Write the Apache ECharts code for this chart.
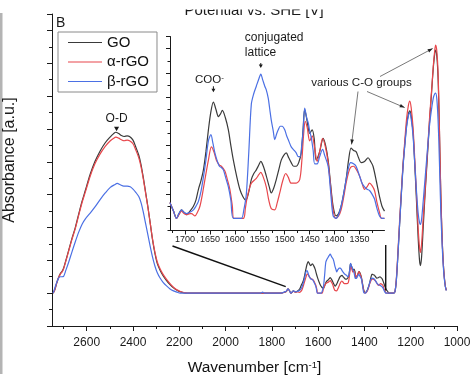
<!DOCTYPE html>
<html><head><meta charset="utf-8">
<script src="https://cdn.jsdelivr.net/npm/echarts@6/dist/echarts.min.js"></script>
<style>html,body{margin:0;padding:0;background:#fff}#c{width:474px;height:381px}</style>
</head><body><div id="c"></div>
<script>
// ---------- data ----------
const SERIES_NAMES = ['GO', 'α-rGO', 'β-rGO'];
const MAIN_X_TICKS = [2600, 2400, 2200, 2000, 1800, 1600, 1400, 1200, 1000];
const MAIN_X_MINOR = [2700, 2500, 2300, 2100, 1900, 1700, 1500, 1300, 1100];
const INSET_X_TICKS = [1700, 1650, 1600, 1550, 1500, 1450, 1400, 1350];
const INSET_X_MINOR = [1725, 1675, 1625, 1575, 1525, 1475, 1425, 1375, 1325];

// O-D band (main plot)
const GO_OD = [[2745,1.0],[2738,1.1],[2730,1.3],[2722,1.47],[2714,1.6],[2707,1.66],[2700,1.76],[2690,2.0],[2678,2.3],[2664,2.66],[2650,2.98],[2635,3.4],[2620,3.8],[2605,4.15],[2585,4.62],[2565,5.0],[2542,5.33],[2520,5.58],[2498,5.76],[2485,5.85],[2474,5.9],[2462,5.86],[2450,5.8],[2438,5.77],[2425,5.79],[2415,5.77],[2400,5.66],[2388,5.45],[2375,5.2],[2365,4.9],[2355,4.5],[2345,4.05],[2335,3.6],[2325,3.1],[2315,2.6],[2305,2.2],[2295,1.9],[2283,1.7],[2270,1.53],[2255,1.38],[2240,1.26],[2225,1.16],[2210,1.09],[2195,1.04],[2180,1.01],[2165,1.0]];
const A_OD = [[2745,1.0],[2738,1.1],[2730,1.3],[2722,1.46],[2714,1.58],[2707,1.64],[2700,1.74],[2690,1.98],[2678,2.28],[2664,2.63],[2650,2.95],[2635,3.36],[2620,3.76],[2605,4.1],[2585,4.56],[2565,4.93],[2542,5.24],[2520,5.47],[2498,5.64],[2485,5.71],[2474,5.75],[2462,5.72],[2450,5.67],[2438,5.64],[2425,5.66],[2415,5.64],[2400,5.55],[2388,5.36],[2375,5.12],[2365,4.84],[2355,4.46],[2345,4.02],[2335,3.58],[2325,3.1],[2315,2.62],[2305,2.24],[2295,1.95],[2283,1.74],[2270,1.57],[2255,1.42],[2240,1.29],[2225,1.18],[2210,1.1],[2195,1.05],[2180,1.02],[2165,1.0]];
const B_OD = [[2745,1.0],[2738,1.15],[2730,1.32],[2722,1.45],[2714,1.5],[2707,1.5],[2700,1.51],[2690,1.7],[2678,1.94],[2664,2.25],[2650,2.55],[2635,2.85],[2620,3.1],[2605,3.27],[2585,3.44],[2565,3.62],[2542,3.85],[2520,4.05],[2498,4.22],[2480,4.3],[2468,4.34],[2455,4.3],[2440,4.26],[2425,4.26],[2412,4.24],[2400,4.17],[2388,4.07],[2375,3.94],[2365,3.75],[2355,3.45],[2345,3.1],[2335,2.75],[2325,2.4],[2315,2.08],[2305,1.82],[2295,1.62],[2283,1.46],[2270,1.33],[2255,1.22],[2240,1.13],[2225,1.07],[2210,1.03],[2196,1.0]];

// flat region between the bands
const FLAT = [[2150,1.0],[2000,1.0],[1900,1.0],[1760,1.0],[1745,1.03],[1738,1.05]];
const B_FLAT = [[2150,1.0],[2000,1.0],[1900,1.0],[1850,1.0],[1840,1.03],[1830,1.0],[1760,1.0],[1745,1.04],[1738,1.06]];

// 1730-1300 region (shown in inset and in main plot)
const GO_INSET = [[1730,1.13],[1723,1.06],[1717,1.0],[1712,1.04],[1707,1.07],[1702,1.05],[1697,1.03],[1690,1.06],[1683,1.10],[1678,1.15],[1673,1.24],[1668,1.31],[1663,1.40],[1658,1.55],[1653,1.73],[1648,1.88],[1643,1.96],[1638,1.90],[1633,1.84],[1629,1.86],[1625,1.89],[1619,1.83],[1613,1.73],[1608,1.60],[1603,1.48],[1596,1.34],[1590,1.24],[1584,1.18],[1578,1.15],[1572,1.22],[1567,1.32],[1562,1.37],[1557,1.40],[1552,1.44],[1548,1.47],[1542,1.42],[1537,1.35],[1531,1.26],[1527,1.21],[1522,1.25],[1517,1.32],[1512,1.40],[1507,1.48],[1502,1.52],[1497,1.54],[1492,1.50],[1487,1.46],[1482,1.43],[1477,1.43],[1472,1.46],[1467,1.54],[1463,1.75],[1460,1.90],[1455,1.80],[1450,1.70],[1445,1.73],[1441,1.66],[1437,1.48],[1430,1.55],[1423,1.66],[1418,1.60],[1413,1.48],[1408,1.28],[1403,1.10],[1397,1.02],[1392,1.04],[1387,1.10],[1382,1.20],[1377,1.32],[1372,1.48],[1367,1.58],[1362,1.56],[1357,1.55],[1352,1.50],[1347,1.46],[1340,1.47],[1333,1.50],[1328,1.47],[1323,1.43],[1316,1.30],[1310,1.18],[1305,1.10],[1300,1.06]];
const A_INSET = [[1730,1.13],[1723,1.06],[1717,1.0],[1712,1.03],[1707,1.06],[1702,1.04],[1697,1.03],[1690,1.04],[1687,1.04],[1680,1.02],[1675,1.05],[1670,1.10],[1665,1.20],[1660,1.32],[1653,1.48],[1647,1.59],[1642,1.55],[1637,1.48],[1631,1.44],[1627,1.43],[1620,1.39],[1615,1.32],[1610,1.24],[1605,1.10],[1602,1.0],[1583,1.0],[1579,1.08],[1575,1.18],[1567,1.29],[1557,1.33],[1552,1.36],[1548,1.38],[1543,1.34],[1537,1.26],[1532,1.15],[1527,1.08],[1520,1.07],[1515,1.13],[1510,1.21],[1504,1.31],[1498,1.37],[1493,1.34],[1487,1.29],[1477,1.29],[1470,1.32],[1466,1.46],[1462,1.70],[1459,1.80],[1455,1.75],[1450,1.64],[1445,1.68],[1440,1.58],[1435,1.47],[1430,1.55],[1424,1.66],[1418,1.58],[1413,1.46],[1408,1.26],[1403,1.07],[1398,1.0],[1392,1.02],[1387,1.07],[1382,1.17],[1377,1.29],[1372,1.38],[1368,1.42],[1362,1.43],[1356,1.40],[1350,1.35],[1345,1.29],[1340,1.24],[1335,1.26],[1330,1.29],[1325,1.27],[1320,1.23],[1315,1.13],[1310,1.05],[1306,1.0],[1300,1.0]];
const B_INSET = [[1730,1.13],[1723,1.06],[1717,1.0],[1712,1.04],[1707,1.07],[1702,1.05],[1697,1.04],[1690,1.05],[1683,1.07],[1678,1.10],[1673,1.14],[1668,1.22],[1663,1.34],[1658,1.48],[1653,1.64],[1648,1.69],[1644,1.62],[1640,1.54],[1635,1.47],[1631,1.43],[1627,1.42],[1623,1.40],[1618,1.33],[1613,1.26],[1608,1.15],[1603,1.0],[1587,1.0],[1582,1.07],[1577,1.20],[1572,1.55],[1567,1.94],[1562,2.03],[1557,2.09],[1552,2.15],[1548,2.19],[1544,2.14],[1540,2.09],[1537,2.06],[1533,1.99],[1530,1.90],[1527,1.81],[1523,1.72],[1520,1.65],[1516,1.70],[1513,1.73],[1509,1.76],[1505,1.76],[1500,1.73],[1496,1.68],[1493,1.65],[1487,1.59],[1481,1.56],[1477,1.54],[1473,1.51],[1469,1.51],[1466,1.60],[1463,1.73],[1460,1.91],[1456,1.83],[1453,1.79],[1450,1.72],[1447,1.67],[1443,1.56],[1440,1.45],[1435,1.45],[1430,1.51],[1424,1.57],[1420,1.52],[1413,1.43],[1408,1.22],[1403,1.02],[1397,1.0],[1392,1.03],[1387,1.10],[1382,1.20],[1377,1.32],[1372,1.42],[1368,1.46],[1362,1.45],[1357,1.43],[1350,1.35],[1345,1.29],[1340,1.26],[1335,1.24],[1330,1.23],[1325,1.20],[1320,1.16],[1315,1.08],[1310,1.02],[1305,1.0],[1300,1.0]];

// C-O region (main plot)
const GO_CO = [[1295,1.0],[1285,1.0],[1275,1.0],[1268,1.05],[1262,1.4],[1255,2.2],[1248,3.1],[1240,4.1],[1233,4.9],[1226,5.5],[1218,6.1],[1210,6.45],[1204,6.55],[1198,6.4],[1190,5.9],[1183,5.0],[1175,3.8],[1168,2.7],[1162,2.0],[1158,1.84],[1153,2.1],[1146,3.0],[1139,3.9],[1132,4.7],[1125,5.5],[1118,6.3],[1110,7.1],[1102,7.9],[1096,8.3],[1092,8.4],[1087,8.2],[1082,7.6],[1078,6.6],[1074,5.3],[1070,4.0],[1065,2.8],[1060,2.0],[1055,1.5],[1050,1.2],[1046,1.09]];
const A_CO = [[1295,1.0],[1285,1.0],[1275,1.0],[1268,1.05],[1262,1.45],[1255,2.3],[1248,3.2],[1240,4.15],[1233,4.95],[1226,5.6],[1218,6.3],[1210,6.72],[1204,6.85],[1198,6.65],[1190,6.05],[1183,5.15],[1175,4.0],[1168,3.0],[1162,2.4],[1158,2.24],[1153,2.5],[1146,3.3],[1139,4.0],[1132,4.8],[1125,5.6],[1118,6.4],[1110,7.15],[1102,7.95],[1096,8.4],[1092,8.55],[1087,8.35],[1082,7.75],[1078,6.7],[1074,5.35],[1070,4.05],[1065,2.85],[1060,2.0],[1055,1.5],[1050,1.2],[1046,1.09]];
const B_CO = [[1295,1.0],[1285,1.0],[1275,1.0],[1268,1.05],[1262,1.4],[1255,2.2],[1248,3.1],[1240,4.05],[1233,4.85],[1226,5.45],[1218,6.05],[1210,6.4],[1204,6.5],[1198,6.3],[1190,5.8],[1183,5.0],[1175,4.1],[1168,3.45],[1162,3.15],[1158,3.09],[1153,3.25],[1146,3.8],[1139,4.4],[1132,5.0],[1125,5.6],[1118,6.15],[1110,6.6],[1102,6.95],[1096,7.07],[1092,7.09],[1087,6.9],[1082,6.3],[1078,5.5],[1074,4.5],[1070,3.5],[1065,2.6],[1060,1.9],[1055,1.45],[1050,1.18],[1046,1.08]];

const COLORS = ['#3a3a3a', '#e8474c', '#4b70e4'];
const FONT = 'Liberation Sans, Arial, Helvetica, sans-serif';
const AXC = '#1a1a1a';

// ---------- chart ----------
const chart = echarts.init(document.getElementById('c'), null, {renderer: 'canvas'});
const mainData = [GO_OD.concat(FLAT, GO_INSET, GO_CO), A_OD.concat(FLAT, A_INSET, A_CO), B_OD.concat(B_FLAT, B_INSET, B_CO)];
const insetData = [GO_INSET, A_INSET, B_INSET];

function tickAxis(extra) {
  return Object.assign({
    type: 'value', axisLine: {show: false}, axisLabel: {show: false},
    splitLine: {show: false}, axisTick: {show: true, length: 3, lineStyle: {color: AXC, width: 1}}
  }, extra);
}

const series = [];
SERIES_NAMES.forEach((n, i) => {
  series.push({name: n, type: 'line', xAxisIndex: 0, yAxisIndex: 0, data: mainData[i],
    showSymbol: false, symbol: 'none', smooth: 0.3, lineStyle: {width: 1.2, color: COLORS[i]}, itemStyle: {color: COLORS[i]}, z: 2 + i});
});
SERIES_NAMES.forEach((n, i) => {
  series.push({name: n, type: 'line', xAxisIndex: 2, yAxisIndex: 2, data: insetData[i],
    showSymbol: false, symbol: 'none', smooth: 0.3, lineStyle: {width: 1.2, color: COLORS[i]}, itemStyle: {color: COLORS[i]}, z: 2 + i});
});

const option = {
  animation: false,
  backgroundColor: '#fff',
  grid: [
    {left: 52, right: 17, top: 14, bottom: 49},
    {left: 170, top: 36.5, width: 214.5, height: 194},
    {left: 170, top: 36.5, width: 214.5, height: 181.875}
  ],
  legend: {
    data: SERIES_NAMES, orient: 'vertical', left: 58, top: 32,
    icon: 'rect', itemWidth: 34, itemHeight: 1.1, itemGap: 4.5,
    padding: [3, 8, 3, 10], borderColor: '#8a8a8a', borderWidth: 1, backgroundColor: '#fff',
    textStyle: {fontSize: 15, color: '#111', fontFamily: FONT}, selectedMode: false
  },
  xAxis: [
    {type: 'value', gridIndex: 0, min: 1000, max: 2750, interval: 200, inverse: true, position: 'bottom',
      axisLine: {show: true, onZero: false, lineStyle: {color: AXC, width: 1}},
      axisTick: {show: true, length: 5, customValues: MAIN_X_TICKS, lineStyle: {color: AXC}},
      axisLabel: {fontSize: 12, color: '#1a1a1a', fontFamily: FONT, margin: 11, customValues: MAIN_X_TICKS,
        formatter: v => MAIN_X_TICKS.includes(v) ? String(v) : ''},
      splitLine: {show: false},
      name: 'Wavenumber [cm{sup|-1}]', nameLocation: 'middle', nameGap: 34,
      nameTextStyle: {fontSize: 15.5, color: '#111', fontFamily: FONT,
        rich: {sup: {fontSize: 9.5, fontFamily: FONT, color: '#111', verticalAlign: 'top', lineHeight: 12}}}},
    tickAxis({gridIndex: 0, min: 1000, max: 2750, interval: 100, inverse: true, position: 'bottom',
      axisTick: {show: true, length: 3, customValues: MAIN_X_MINOR, lineStyle: {color: AXC}}}),
    {type: 'value', gridIndex: 1, min: 1300, max: 1730, interval: 50, inverse: true, position: 'bottom',
      axisLine: {show: true, onZero: false, lineStyle: {color: AXC, width: 1}},
      axisTick: {show: true, length: 4, customValues: INSET_X_TICKS, lineStyle: {color: AXC}},
      axisLabel: {fontSize: 9, color: '#1a1a1a', fontFamily: FONT, margin: 5, customValues: INSET_X_TICKS,
        formatter: v => INSET_X_TICKS.includes(v) ? String(v) : ''},
      splitLine: {show: false}},
    tickAxis({gridIndex: 1, min: 1300, max: 1730, interval: 25, inverse: true, position: 'bottom',
      axisTick: {show: true, length: 2.5, customValues: INSET_X_MINOR, lineStyle: {color: AXC}}}),
    {type: 'value', gridIndex: 2, min: 1300, max: 1730, show: false}
  ],
  yAxis: [
    {type: 'value', gridIndex: 0, min: 0, max: 9.5, interval: 1, position: 'left',
      axisLine: {show: true, onZero: false, lineStyle: {color: AXC, width: 1}},
      axisTick: {show: true, length: 5, lineStyle: {color: AXC}},
      axisLabel: {show: false}, splitLine: {show: false}},
    tickAxis({gridIndex: 0, min: 0, max: 9.5, interval: 0.5, position: 'left'}),
    {type: 'value', gridIndex: 1, min: 0.9, max: 2.5, interval: 0.1, position: 'left',
      axisLine: {show: true, onZero: false, lineStyle: {color: AXC, width: 1}},
      axisTick: {show: true, length: 2.5, lineStyle: {color: AXC}},
      axisLabel: {show: false}, splitLine: {show: false}},
    tickAxis({gridIndex: 2, min: 1.0, max: 2.5, interval: 0.2, position: 'left', axisTick: {show: true, length: 4, lineStyle: {color: AXC}}})
  ],
  series: series
};
chart.setOption(option);

// ---------- annotations (anchored to data through the axes) ----------
const M = p => chart.convertToPixel({xAxisIndex: 0, yAxisIndex: 0}, p);
const I = p => chart.convertToPixel({xAxisIndex: 2, yAxisIndex: 2}, p);

function arrowHead(tip, from, L, W, color) {
  const dx = tip[0] - from[0], dy = tip[1] - from[1];
  const len = Math.sqrt(dx * dx + dy * dy) || 1;
  const ux = dx / len, uy = dy / len, px = -uy, py = ux;
  const bx = tip[0] - ux * L, by = tip[1] - uy * L;
  return {type: 'polygon', z: 50, silent: true,
    shape: {points: [[tip[0], tip[1]], [bx + px * W / 2, by + py * W / 2], [bx - px * W / 2, by - py * W / 2]]},
    style: {fill: color}};
}
function line(a, b, color, w) {
  return {type: 'line', z: 50, silent: true, shape: {x1: a[0], y1: a[1], x2: b[0], y2: b[1]}, style: {stroke: color, lineWidth: w}};
}
function text(x, y, str, size, align, vAlign, extra) {
  return Object.assign({type: 'text', z: 60, silent: true, x: x, y: y,
    style: {text: str, fill: '#1a1a1a', fontSize: size, fontFamily: FONT,
      textAlign: align, align: align, textVerticalAlign: vAlign, verticalAlign: vAlign}}, extra || {});
}

const g = [];
// left grey rule
g.push({type: 'rect', z: 1, silent: true, shape: {x: 0, y: 13, width: 2.5, height: 361}, style: {fill: '#b4b4b4'}});
// cropped title at very top
g.push(text(254, 11, 'Potential vs. SHE [V]', 15, 'center', 'middle'));
g.push({type: 'rect', z: 70, silent: true, shape: {x: 170, y: 0, width: 170, height: 9.5}, style: {fill: '#fff'}});
// panel letter
g.push(text(56, 23, 'B', 14, 'left', 'middle'));
// y axis title
g.push(text(10, 160, 'Absorbance [a.u.]', 16, 'center', 'middle', {rotation: Math.PI / 2}));

// O-D
const odTip = M([2471, 5.93]);
g.push(arrowHead(odTip, [odTip[0], odTip[1] - 10], 4.5, 5, '#1a1a1a'));
g.push(text(odTip[0], odTip[1] - 12.5, 'O-D', 12, 'center', 'middle'));
// COO-
const cooTip = I([1643, 2.04]);
g.push(line([cooTip[0], cooTip[1] - 6], [cooTip[0], cooTip[1] - 2], '#1a1a1a', 1));
g.push(arrowHead(cooTip, [cooTip[0], cooTip[1] - 10], 3.5, 4, '#1a1a1a'));
g.push({type: 'text', z: 60, silent: true, x: cooTip[0] - 4, y: cooTip[1] - 12,
  style: {text: '{a|COO}{s|-}', fill: '#1a1a1a', textAlign: 'center', align: 'center', textVerticalAlign: 'middle', verticalAlign: 'middle',
    rich: {a: {fontSize: 11.5, fontFamily: FONT, fill: '#1a1a1a'}, s: {fontSize: 8, fontFamily: FONT, fill: '#1a1a1a', verticalAlign: 'top'}}}});
// conjugated lattice
const conTip = I([1548, 2.24]);
g.push(line([conTip[0], conTip[1] - 5], [conTip[0], conTip[1] - 2], '#1a1a1a', 1));
g.push(arrowHead(conTip, [conTip[0], conTip[1] - 10], 3.5, 4, '#1a1a1a'));
g.push(text(conTip[0] - 16, conTip[1] - 30.5, 'conjugated', 12, 'left', 'middle'));
g.push(text(conTip[0] - 16, conTip[1] - 15.5, 'lattice', 12, 'left', 'middle'));
// various C-O groups
const coTextX = 361.5, coTextY = 83;
g.push(text(coTextX, coTextY, 'various C-O groups', 11.6, 'center', 'middle'));
const t1 = I([1366, 1.61]), s1 = [358, 91.5];
const t2 = M([1226, 6.65]), s2 = [367, 91.5];
const t3 = M([1105, 8.45]), s3 = [380, 76.5];
[[s1, t1], [s2, t2], [s3, t3]].forEach(([s, t]) => {
  g.push(line(s, t, '#555', 0.8));
  g.push(arrowHead(t, s, 5, 3.6, '#222'));
});
// connectors from inset to main plot region
const insetBL = I([1727, 0.9]);
const mainL = M([1740, 1.2]);
g.push(line([insetBL[0] + 1, insetBL[1] + 15.5], mainL, '#111', 1.4));
const mainR = M([1308, 1.08]);
g.push(line([mainR[0], insetBL[1] + 14.5], mainR, '#111', 1.4));

chart.setOption({graphic: {elements: g}});
</script>
</body></html>
